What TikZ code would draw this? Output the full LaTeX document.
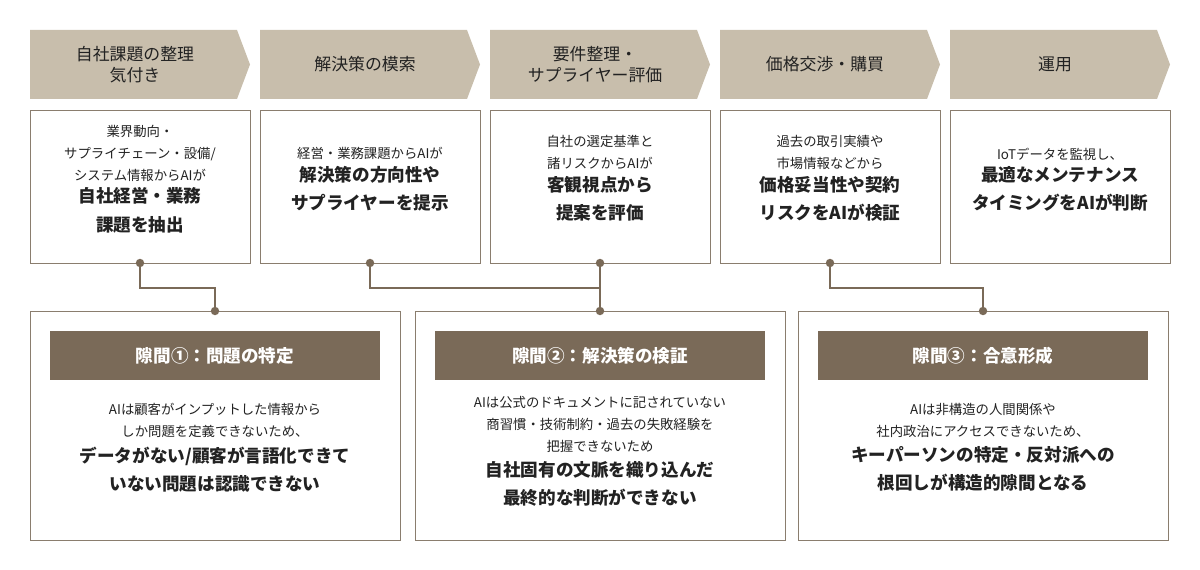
\documentclass[tikz,border=0pt]{standalone}
\usepackage{fontspec}
\setmainfont{Noto Sans CJK JP}
\usetikzlibrary{positioning}
\definecolor{beige}{HTML}{C8BEAC}
\definecolor{brown}{HTML}{7A6A58}
\definecolor{frame}{HTML}{8A7D6E}
\definecolor{ink}{HTML}{222222}
\begin{document}
\begin{tikzpicture}[x=0.025cm,y=-0.025cm,
    stepbox/.style={fill=beige},
    steptext/.style={text=ink,font=\fontsize{12}{15}\selectfont,align=center},
    card/.style={draw=frame,fill=white,line width=0.6pt},
    leadtext/.style={text=ink,align=center,inner sep=1pt,font=\fontsize{9.5}{15.5}\selectfont},
    keytext/.style={text=ink,align=center,inner sep=1pt,font=\fontsize{12.5}{20}\selectfont\bfseries},
    bar/.style={fill=brown,text=white,font=\fontsize{12.5}{15}\selectfont\bfseries},
    link/.style={draw=brown,line width=1.6pt},
    dot/.style={circle,fill=brown,inner sep=0pt,minimum size=6pt}]
  \useasboundingbox (0,0) rectangle (1200,570);

  % Schritte oben
  \fill[stepbox] (30,30) -- (237,30) -- (250,64.5) -- (237,99) -- (30,99) -- cycle;
  \fill[stepbox] (260,30) -- (467,30) -- (480,64.5) -- (467,99) -- (260,99) -- cycle;
  \fill[stepbox] (490,30) -- (697,30) -- (710,64.5) -- (697,99) -- (490,99) -- cycle;
  \fill[stepbox] (720,30) -- (927,30) -- (940,64.5) -- (927,99) -- (720,99) -- cycle;
  \fill[stepbox] (950,30) -- (1157,30) -- (1170,64.5) -- (1157,99) -- (950,99) -- cycle;
  \node[steptext] (s1) at (135,64.5) {自社課題の整理\\気付き};
  \node[steptext] (s2) at (365,64.5) {解決策の模索};
  \node[steptext] (s3) at (595,64.5) {要件整理・\\サプライヤー評価};
  \node[steptext] (s4) at (825,64.5) {価格交渉・購買};
  \node[steptext] (s5) at (1055,64.5) {運用};

  % Karten
  \draw[card] (30,110) rectangle (250,263);
  \draw[card] (260,110) rectangle (480,263);
  \draw[card] (490,110) rectangle (710,263);
  \draw[card] (720,110) rectangle (940,263);
  \draw[card] (950,110) rectangle (1170,263);
  \node[leadtext,anchor=north] (l1) at (140,124) {業界動向・\\サプライチェーン・設備/\\システム情報からAIが};
  \node[keytext,below=2pt of l1] (k1) {自社経営・業務\\課題を抽出};
  \node[leadtext,anchor=north] (l2) at (370,146) {経営・業務課題からAIが};
  \node[keytext,below=2pt of l2] (k2) {解決策の方向性や\\サプライヤーを提示};
  \node[leadtext,anchor=north] (l3) at (600,134) {自社の選定基準と\\諸リスクからAIが};
  \node[keytext,below=2pt of l3] (k3) {客観視点から\\提案を評価};
  \node[leadtext,anchor=north] (l4) at (830,134) {過去の取引実績や\\市場情報などから};
  \node[keytext,below=2pt of l4] (k4) {価格妥当性や契約\\リスクをAIが検証};
  \node[leadtext,anchor=north] (l5) at (1060,146) {IoTデータを監視し、};
  \node[keytext,below=2pt of l5] (k5) {最適なメンテナンス\\タイミングをAIが判断};

  % Luecken unten
  \draw[card] (30,311) rectangle (400,540);
  \draw[card] (415,311) rectangle (785,540);
  \draw[card] (798,311) rectangle (1168,540);
  \fill[brown] (50,331) rectangle (380,380);
  \fill[brown] (435,331) rectangle (765,380);
  \fill[brown] (818,331) rectangle (1148,380);
  \node[bar] (g1) at (215,355.5) {隙間①：問題の特定};
  \node[bar] (g2) at (600,355.5) {隙間②：解決策の検証};
  \node[bar] (g3) at (983,355.5) {隙間③：合意形成};
  \node[leadtext,anchor=north] (m1) at (215,402) {AIは顧客がインプットした情報から\\しか問題を定義できないため、};
  \node[keytext,below=4pt of m1] (n1) {データがない/顧客が言語化できて\\いない問題は認識できない};
  \node[leadtext,anchor=north] (m2) at (600,395) {AIは公式のドキュメントに記されていない\\商習慣・技術制約・過去の失敗経験を\\把握できないため};
  \node[keytext,below=4pt of m2] (n2) {自社固有の文脈を織り込んだ\\最終的な判断ができない};
  \node[leadtext,anchor=north] (m3) at (983,402) {AIは非構造の人間関係や\\社内政治にアクセスできないため、};
  \node[keytext,below=4pt of m3] (n3) {キーパーソンの特定・反対派への\\根回しが構造的隙間となる};

  % Verbindungen
  \coordinate (a1) at (140,263); \coordinate (b1) at (215,311);
  \coordinate (a2) at (370,263); \coordinate (a3) at (600,263); \coordinate (b2) at (600,311);
  \coordinate (a4) at (830,263); \coordinate (b3) at (983,311);
  \draw[link] (a1) |- (215,288) -- (b1);
  \draw[link] (a2) |- (600,288);
  \draw[link] (a3) -- (b2);
  \draw[link] (a4) |- (983,288) -- (b3);
  \foreach \p in {a1,b1,a2,a3,b2,a4,b3} \node[dot] at (\p) {};
\end{tikzpicture}
\end{document}
